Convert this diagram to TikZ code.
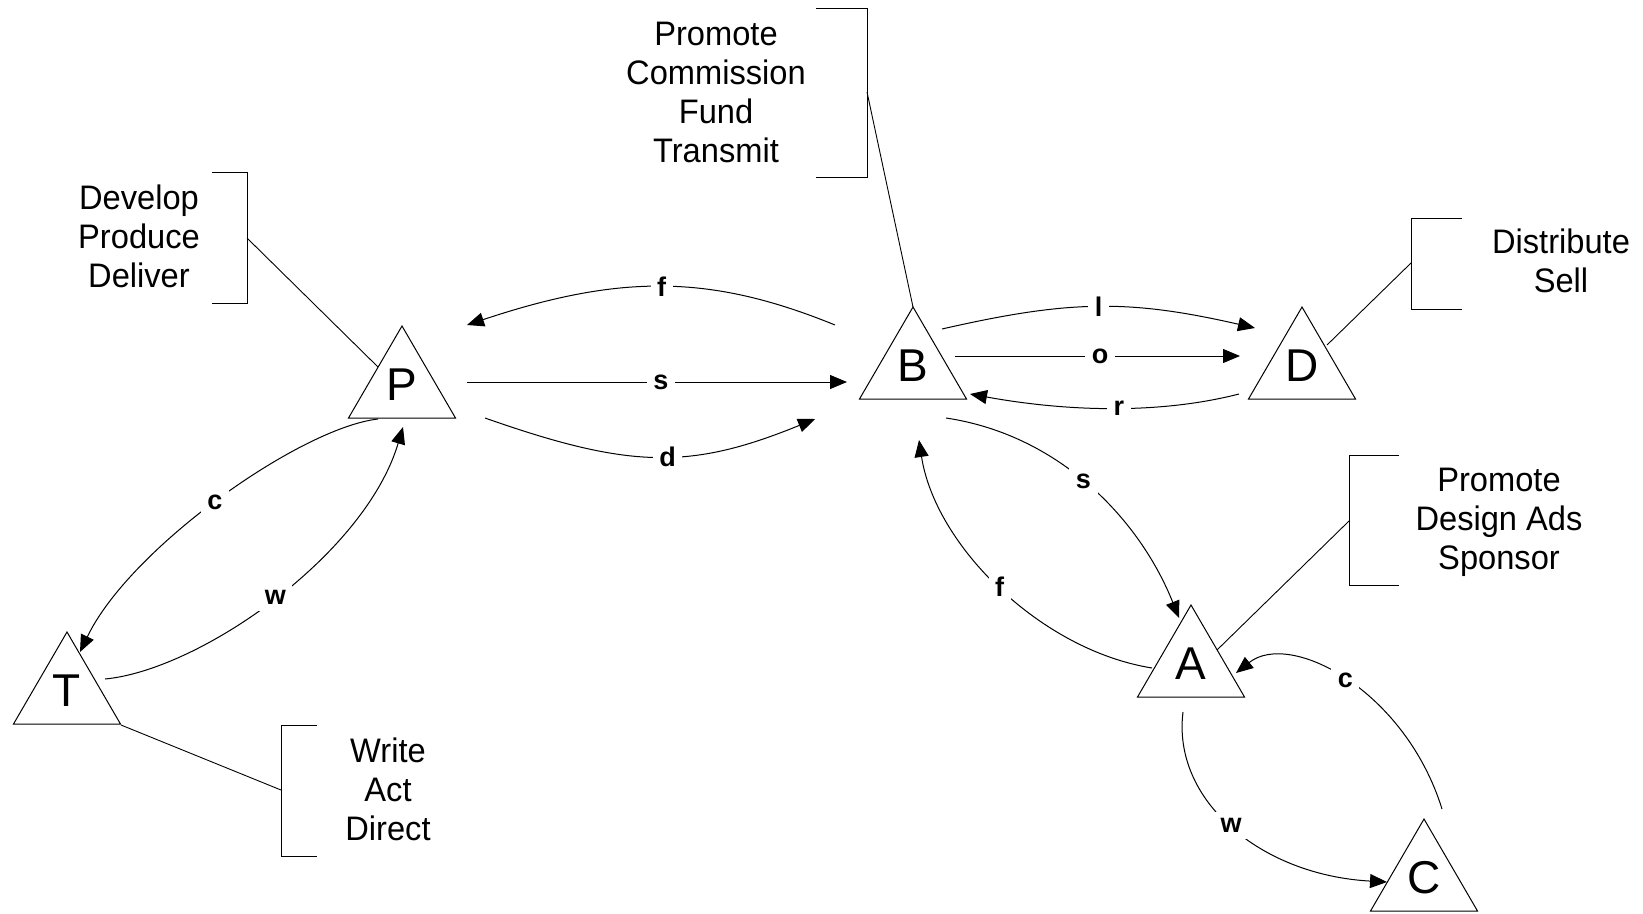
\documentclass[tikz,border=0pt]{standalone}
\usepackage{fontspec}
\setmainfont{Liberation Sans}
\newfontfamily\txtfont[FakeStretch=0.96]{Liberation Sans}
\usetikzlibrary{arrows.meta}
\newcommand\trinode[4]{%
  \node[letter] (#1) at (#2,#3) {#4};
  \draw[tribox] (#2,#3) ++(0,-59) -- ++(-53.5,92) -- ++(107,0) -- cycle;}
\begin{document}
\begin{tikzpicture}[x=1pt,y=-1pt,line width=1pt,
  letter/.style={font=\fontsize{46}{50}\selectfont, inner sep=0pt},
  tribox/.style={draw, line width=1pt},
  lbl/.style={font=\bfseries\fontsize{27}{29}\selectfont, fill=white, inner sep=6.5pt},
  arr/.style={-{Triangle[length=17pt,width=14pt]}},
  txt/.style={font=\txtfont\fontsize{34}{39}\selectfont, align=center, anchor=base, inner sep=0pt},
  bracket/.style={line width=1pt},
  leader/.style={line width=0.9pt}]
\useasboundingbox (0,0) rectangle (1643,913);

% triangles with letters
\trinode{P}{402}{385}{P}
\trinode{B}{913}{366}{B}
\trinode{D}{1302}{366}{D}
\trinode{T}{67}{691}{T}
\trinode{A}{1191}{664}{A}
\trinode{C}{1424}{878}{C}

% text blocks (anchor = baseline of the last line)
\node[txt] (tDev) at (139,287) {Develop\\Produce\\Deliver};
\node[txt] (tCom) at (716,162) {Promote\\Commission\\Fund\\Transmit};
\node[txt] (tDis) at (1561,292) {Distribute\\Sell};
\node[txt] (tAds) at (1499,569) {Promote\\Design Ads\\Sponsor};
\node[txt] (tWri) at (388,840) {Write\\Act\\Direct};

% brackets
\draw[bracket] (212,172) -- (247,172) -- (247,303) -- (212,303);
\draw[bracket] (816,8) -- (867,8) -- (867,177) -- (816,177);
\draw[bracket] (1462,218) -- (1411,218) -- (1411,309) -- (1462,309);
\draw[bracket] (1399,455) -- (1349,455) -- (1349,585) -- (1399,585);
\draw[bracket] (317,725) -- (281,725) -- (281,856) -- (317,856);

% leader end points
\coordinate (bDev) at (247,238);  \coordinate (pDev) at (378,367);
\coordinate (bCom) at (867,92);   \coordinate (pCom) at (913,307);
\coordinate (bDis) at (1411,263); \coordinate (pDis) at (1327,345);
\coordinate (bAds) at (1349,521); \coordinate (pAds) at (1217,650);
\coordinate (bWri) at (281,790);  \coordinate (pWri) at (121,725);
\draw[leader] (bDev) -- (pDev);
\draw[leader] (bCom) -- (pCom);
\draw[leader] (bDis) -- (pDis);
\draw[leader] (bAds) -- (pAds);
\draw[leader] (bWri) -- (pWri);

% connector end points
\coordinate (fBs) at (835,325);   \coordinate (fPe) at (467,325);
\coordinate (sPs) at (467,382);   \coordinate (sBe) at (847,382);
\coordinate (dPs) at (485,418);   \coordinate (dBe) at (815,419);
\coordinate (lBs) at (942,329);   \coordinate (lDe) at (1255,328);
\coordinate (oBs) at (955,356);   \coordinate (oDe) at (1240,356);
\coordinate (rDs) at (1239,394);  \coordinate (rBe) at (970,394);
\coordinate (sB2s) at (946,418);  \coordinate (sAe) at (1179,618);
\coordinate (fAs) at (1152,668);  \coordinate (fB2e) at (919,440);
\coordinate (wAs) at (1183,712);  \coordinate (wCe) at (1387,882);
\coordinate (cCs) at (1442,809);  \coordinate (cAe) at (1236,673);
\coordinate (cPs) at (378,419);   \coordinate (cTe) at (80,652);
\coordinate (wTs) at (105,679);   \coordinate (wPe) at (403,427);

% connectors
\draw[arr] (fBs) .. controls (710,274) and (620,274) .. (fPe) node[lbl,pos=.5] (lf1) {f};
\draw[arr] (sPs) -- (sBe) node[lbl,pos=.51] (ls1) {s};
\draw[arr] (dPs) .. controls (630,469) and (690,470) .. (dBe) node[lbl,pos=.535] (ld1) {d};
\draw[arr] (lBs) .. controls (1069,300) and (1128,299) .. (lDe) node[lbl,pos=.5] (ll1) {l};
\draw[arr] (oBs) -- (oDe) node[lbl,pos=.509] (lo1) {o};
\draw[arr] (rDs) .. controls (1165,413) and (1075,413) .. (rBe) node[lbl,pos=.49] (lr1) {r};
\draw[arr] (sB2s) .. controls (1060,435) and (1140,520) .. (sAe) node[lbl,pos=.47] (ls2) {s};
\draw[arr] (fAs) .. controls (1040,650) and (935,545) .. (fB2e) node[lbl,pos=.5] (lf2) {f};
\draw[arr] (wAs) .. controls (1172,800) and (1260,875) .. (wCe) node[lbl,pos=.49] (lw2) {w};
\draw[arr] (cCs) .. controls (1405,690) and (1290,630) .. (cAe) node[lbl,pos=.5] (lc2) {c};
\draw[arr] (cPs) .. controls (300,428) and (130,548) .. (cTe) node[lbl,pos=.51] (lc1) {c};
\draw[arr] (wTs) .. controls (200,670) and (365,555) .. (wPe) node[lbl,pos=.5] (lw1) {w};
\end{tikzpicture}
\end{document}
